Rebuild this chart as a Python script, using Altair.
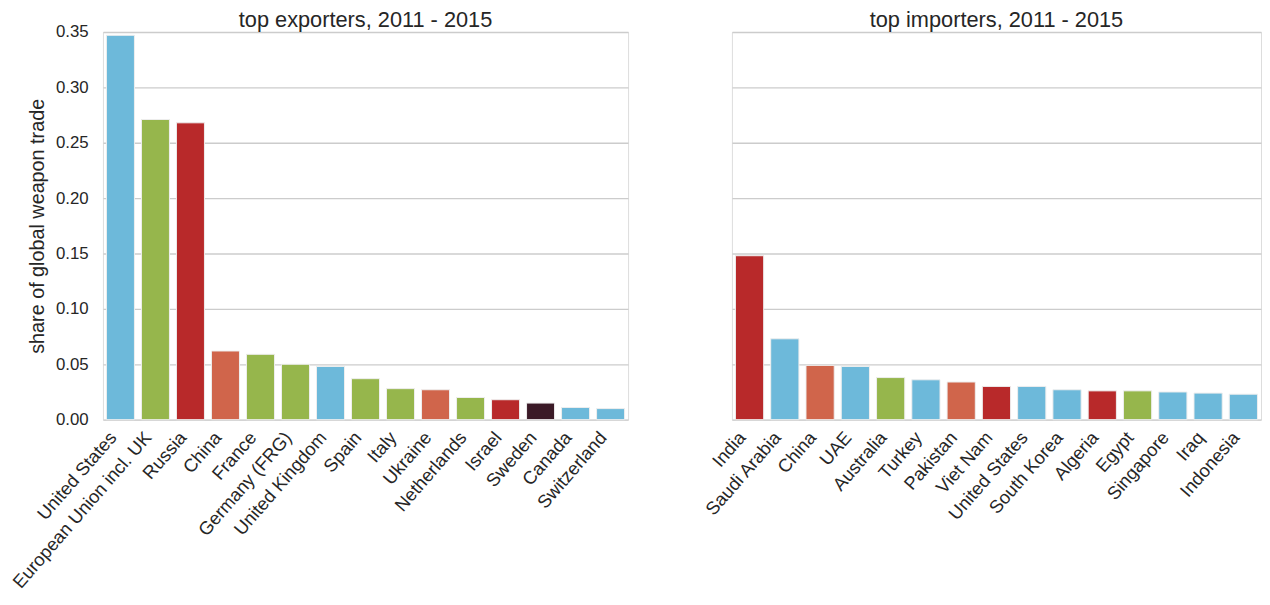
import altair as alt
import pandas as pd

exp_names = ["United States", "European Union incl. UK", "Russia", "China", "France",
             "Germany (FRG)", "United Kingdom", "Spain", "Italy", "Ukraine",
             "Netherlands", "Israel", "Sweden", "Canada", "Switzerland"]
exp_values = [0.347, 0.271, 0.268, 0.062, 0.059, 0.050, 0.048, 0.037, 0.028, 0.027,
              0.020, 0.018, 0.015, 0.011, 0.010]
exp_groups = ["blue", "green", "red", "orange", "green", "green", "blue", "green", "green",
              "orange", "green", "red", "dark", "blue", "blue"]

imp_names = ["India", "Saudi Arabia", "China", "UAE", "Australia", "Turkey", "Pakistan",
             "Viet Nam", "United States", "South Korea", "Algeria", "Egypt", "Singapore",
             "Iraq", "Indonesia"]
imp_values = [0.148, 0.073, 0.049, 0.048, 0.038, 0.036, 0.034, 0.030, 0.030, 0.027,
              0.026, 0.026, 0.025, 0.024, 0.023]
imp_groups = ["red", "blue", "orange", "blue", "green", "blue", "orange", "red", "blue",
              "blue", "red", "green", "blue", "blue", "blue"]

group_domain = ["blue", "green", "red", "orange", "dark"]
group_colors = ["#6db9da", "#96b64c", "#b8292a", "#d0654b", "#3b1a27"]

exp_df = pd.DataFrame({"country": exp_names, "share": exp_values, "group": exp_groups})
imp_df = pd.DataFrame({"country": imp_names, "share": imp_values, "group": imp_groups})

FONT = "Liberation Sans"
TXT = "#262626"


def panel(df, title, show_y, width):
    yaxis = alt.Axis(
        format=".2f", values=[0, 0.05, 0.1, 0.15, 0.2, 0.25, 0.3, 0.35],
        labelFontSize=17, labelColor=TXT, labelFont=FONT, labelPadding=15,
        labelOpacity=1 if show_y else 0,
        titleFontSize=20, titleFont=FONT, titleColor=TXT, titleFontWeight="normal",
        titlePadding=8,
        domain=False, ticks=False, grid=True, gridColor="#cccccc", gridWidth=1.3,
        title="share of global weapon trade" if show_y else "",
    )
    xaxis = alt.Axis(
        title=None, labelAngle=-49, labelAlign="right", labelBaseline="bottom",
        labelFontSize=18.5, labelColor=TXT, labelFont=FONT, labelPadding=21,
        domain=False, ticks=False, labelOverlap=False, labelLimit=300,
    )
    return alt.Chart(df).mark_bar(stroke="#eeeeee", strokeWidth=1).encode(
        x=alt.X("country:N", sort=None, axis=xaxis,
                scale=alt.Scale(paddingInner=0.2, paddingOuter=0.1)),
        y=alt.Y("share:Q", axis=yaxis, scale=alt.Scale(domain=[0, 0.35], nice=False)),
        color=alt.Color("group:N", legend=None,
                        scale=alt.Scale(domain=group_domain, range=group_colors)),
    ).properties(
        width=width, height=392,
        title=alt.TitleParams(title, fontSize=22, font=FONT, color=TXT,
                              fontWeight="normal", offset=-9, frame="group"),
    )


chart = alt.hconcat(
    panel(exp_df, "top exporters, 2011 - 2015", True, 531),
    panel(imp_df, "top importers, 2011 - 2015", False, 535),
    spacing=105, bounds="flush",
).properties(
    padding={"left": 0, "top": -3, "right": 0, "bottom": -4}
).configure_view(stroke=None).configure(background="white")

chart.save("out.html", embed_options={"renderer": "svg", "actions": False})
